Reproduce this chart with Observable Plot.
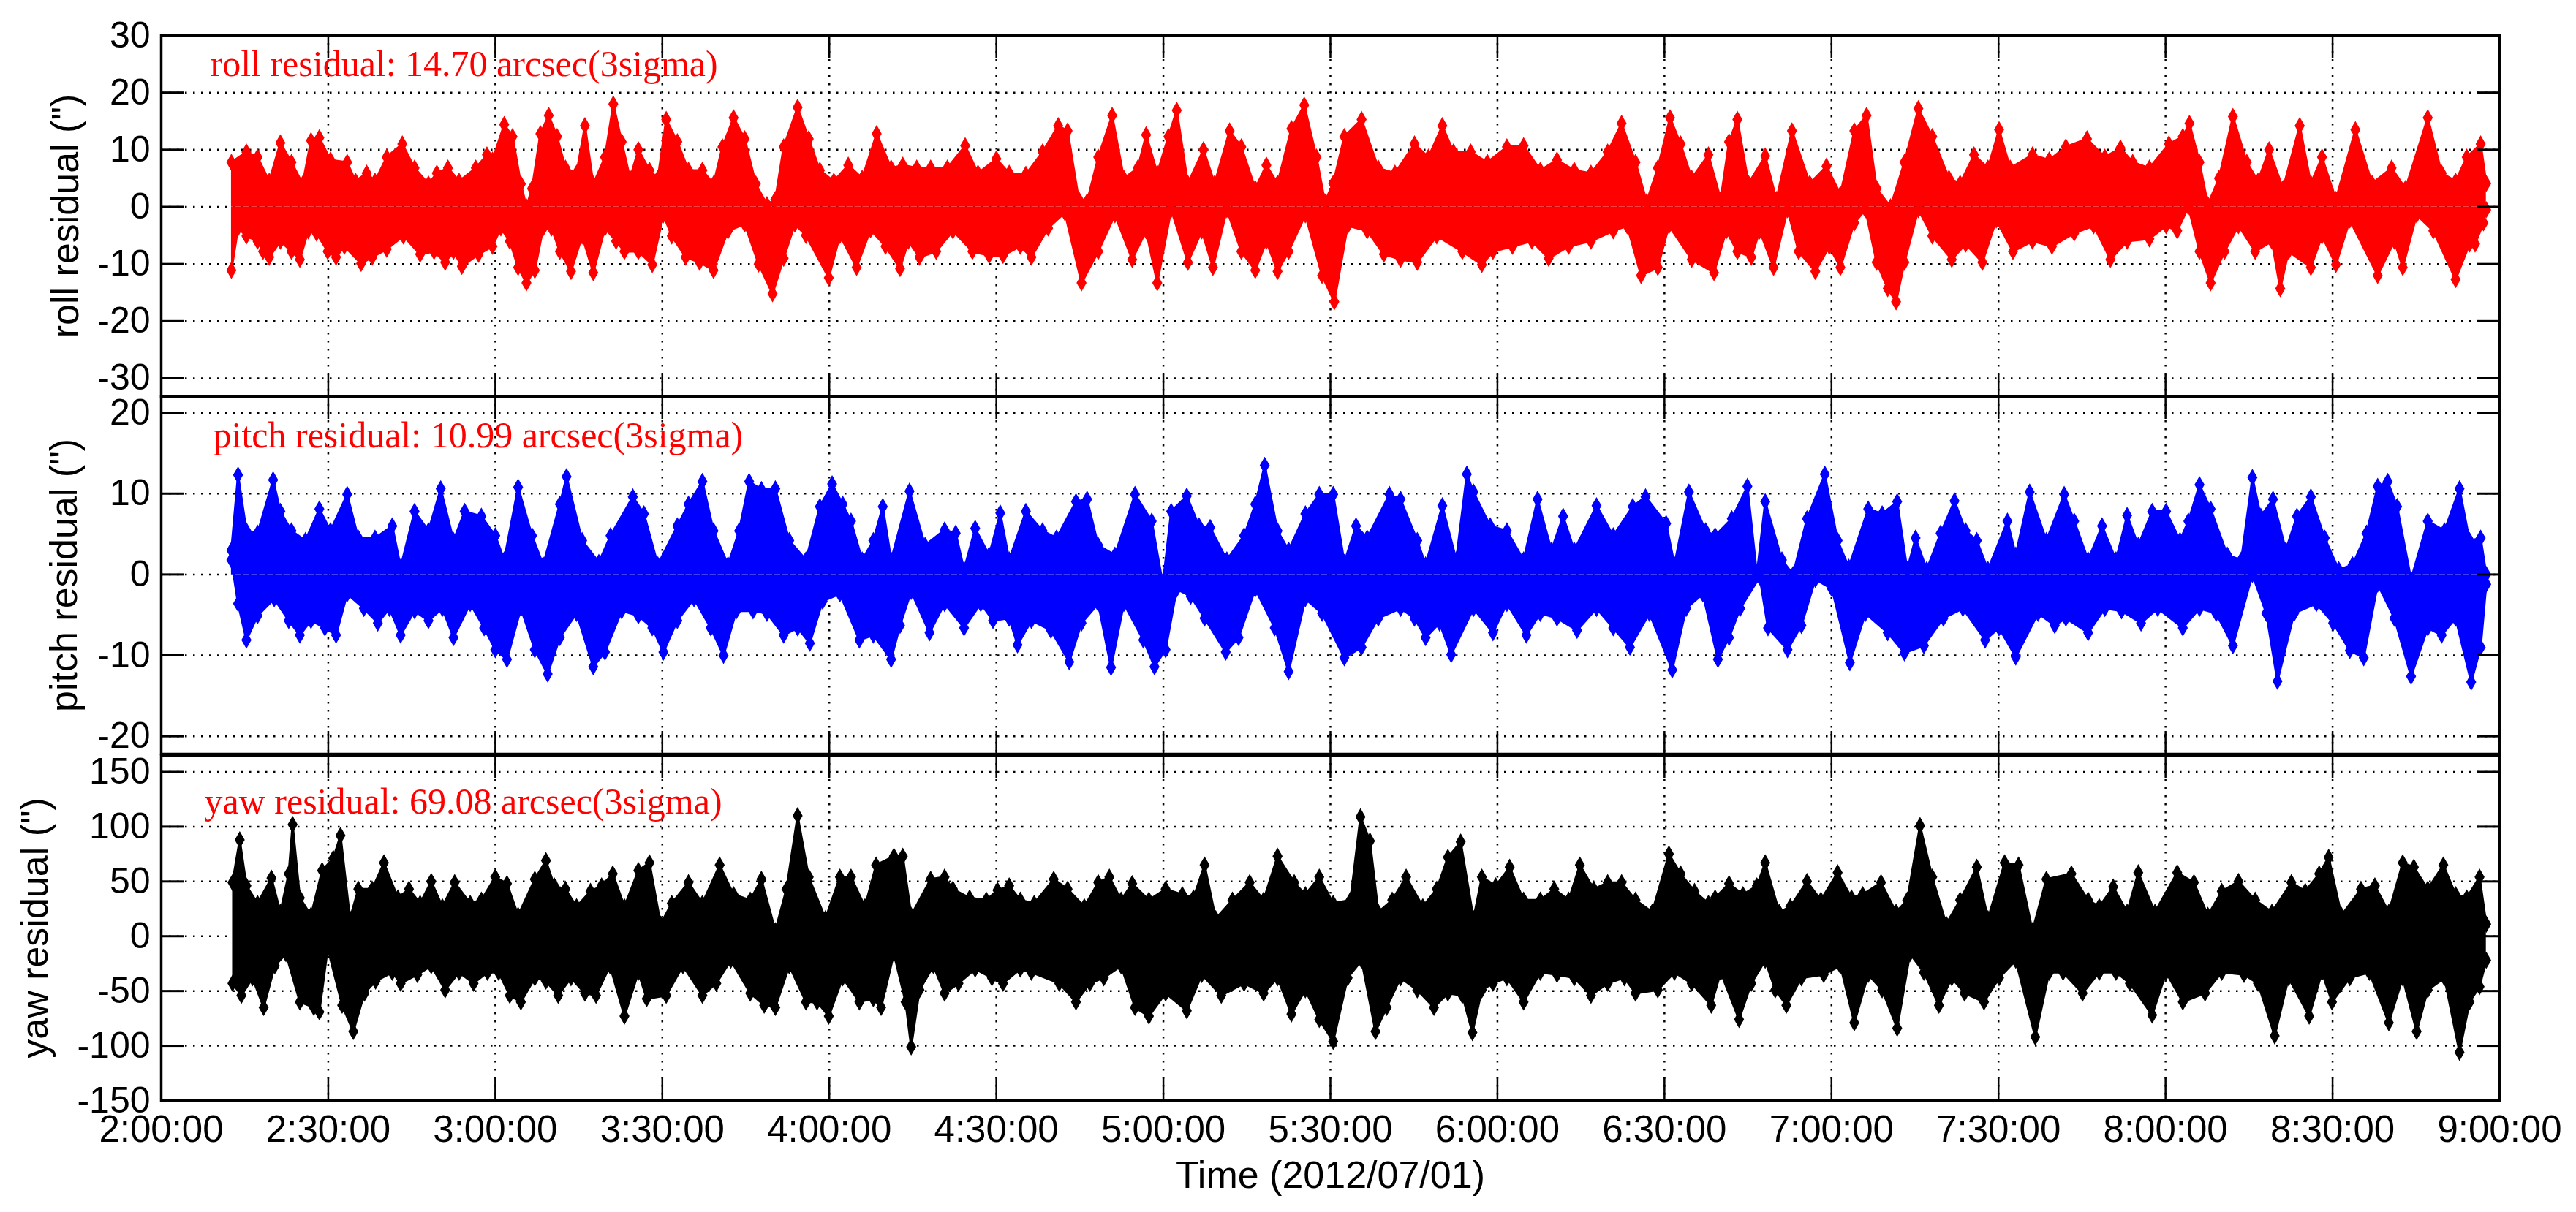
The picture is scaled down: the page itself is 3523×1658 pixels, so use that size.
<!DOCTYPE html>
<html><head><meta charset="utf-8">
<script src="https://cdn.jsdelivr.net/npm/d3@7"></script>
<script src="https://cdn.jsdelivr.net/npm/@observablehq/plot@0.6"></script>
<style>
html,body{margin:0;padding:0;background:#fff;}
#chart{position:relative;width:3523px;height:1658px;overflow:hidden;background:#fff;}
#chart svg{position:absolute;left:0;}
</style></head><body><div id="chart"></div>
<script>
// time: minutes after 2:00:00 ; value: arcsec. Upper / lower envelopes.
const rollHigh = [[12.6,7.8],[15.3,9.6],[17.3,8.7],[19.4,4.5],[21.4,11.2],[23.4,7.8],[25.4,4.0],[26.9,11.6],[28.4,12.1],[30.4,8.2],[33.4,7.8],[34.9,4.5],[36.9,5.9],[38.4,4.5],[40.5,8.7],[43.3,11.0],[45.5,6.8],[48.0,4.0],[49.5,5.9],[51.5,6.8],[53.5,4.5],[56.5,6.8],[58.5,9.1],[59.5,8.2],[61.6,14.4],[63.1,12.3],[64.6,4.0],[65.6,0.0],[66.6,3.2],[68.1,12.8],[69.6,16.0],[71.1,12.3],[72.6,6.8],[74.6,5.9],[76.1,14.2],[77.6,4.0],[79.7,8.7],[81.2,18.0],[82.7,11.4],[84.2,5.0],[85.7,10.0],[87.7,6.4],[89.2,5.0],[90.7,15.3],[92.7,11.4],[94.7,6.4],[97.2,6.4],[99.2,4.0],[100.8,10.5],[102.8,15.6],[104.8,11.9],[106.8,4.0],[108.8,0.4],[110.3,1.3],[111.8,10.5],[114.3,17.4],[116.3,11.9],[118.3,6.4],[120.8,4.5],[123.4,7.3],[125.9,5.0],[128.5,12.8],[131.1,6.8],[133.2,7.3],[135.7,6.8],[138.2,6.8],[141.2,6.8],[144.4,10.7],[146.7,5.9],[150.0,8.4],[152.3,5.9],[155.3,5.7],[158.3,9.6],[161.1,14.2],[162.8,13.3],[164.8,1.3],[166.3,0.9],[168.3,8.7],[170.8,16.0],[172.9,5.0],[175.4,6.8],[176.9,12.6],[178.9,5.9],[180.9,12.3],[182.4,16.9],[184.4,4.1],[187.2,10.0],[189.2,4.1],[191.9,13.3],[194.0,10.5],[196.5,3.2],[198.5,7.3],[200.5,4.1],[203.0,13.7],[205.3,17.8],[207.5,8.7],[209.0,0.9],[210.5,4.1],[212.5,12.3],[215.6,15.3],[218.6,6.8],[221.6,5.9],[225.1,11.0],[227.6,8.7],[230.1,14.2],[232.1,9.6],[235.2,9.6],[238.2,7.8],[241.7,10.5],[244.7,10.7],[247.7,6.4],[250.7,8.2],[253.8,6.4],[256.8,5.9],[259.8,9.6],[262.3,14.6],[264.8,7.8],[266.8,0.9],[268.8,6.8],[271.0,15.6],[272.9,11.0],[274.9,5.0],[277.9,9.1],[280.1,1.3],[281.6,11.4],[283.1,15.3],[285.1,4.1],[288.1,8.9],[290.1,1.3],[292.9,13.3],[296.1,4.1],[299.1,7.1],[301.6,2.2],[304.1,13.3],[306.3,16.0],[308.1,3.2],[310.6,0.0],[313.1,7.8],[315.6,17.2],[318.1,12.3],[321.1,5.0],[323.1,4.1],[325.6,9.1],[328.1,6.8],[330.1,13.5],[332.1,6.8],[336.1,9.1],[339.1,8.2],[342.1,10.5],[345.9,11.9],[349.1,8.7],[351.9,10.3],[354.1,7.8],[357.1,6.8],[360.6,11.0],[363.1,12.3],[364.3,14.6],[366.1,7.8],[367.6,0.4],[369.6,5.0],[372.1,15.8],[374.6,7.8],[376.6,4.5],[378.6,10.0],[381.1,3.2],[384.1,14.2],[386.1,4.1],[388.1,8.7],[390.6,1.3],[394.1,13.5],[397.1,4.1],[400.6,6.8],[403.1,3.2],[407.1,15.6],[409.6,5.9],[412.1,4.5],[414.1,8.7],[416.6,11.0],[417.6,4.1]];
const rollLow = [[12.6,-11.1],[13.8,-3.7],[15.3,-5.1],[17.3,-6.0],[18.3,-7.8],[19.4,-8.8],[21.4,-6.0],[23.4,-7.8],[24.9,-9.2],[26.4,-4.2],[27.9,-4.6],[29.9,-7.8],[31.4,-8.8],[32.9,-6.9],[35.9,-9.9],[37.9,-8.8],[40.5,-7.4],[43.5,-5.1],[46.5,-8.3],[49.0,-7.8],[51.0,-9.7],[52.5,-7.8],[54.0,-10.4],[57.0,-8.3],[59.5,-6.9],[61.0,-3.7],[62.6,-6.0],[64.1,-10.6],[65.6,-13.3],[67.1,-11.1],[68.6,-3.7],[70.1,-3.7],[71.6,-7.8],[73.6,-11.3],[75.6,-5.1],[77.6,-11.5],[79.7,-3.7],[81.7,-6.0],[83.2,-7.8],[85.7,-7.8],[88.2,-10.1],[90.2,-1.4],[91.7,-5.1],[94.2,-8.8],[96.7,-9.7],[99.2,-11.1],[101.8,-4.2],[104.8,-3.0],[107.3,-10.0],[109.8,-15.2],[111.8,-9.0],[113.8,-3.0],[115.8,-5.0],[119.9,-12.4],[121.9,-5.0],[124.9,-10.6],[127.4,-4.0],[130.1,-6.9],[132.7,-10.8],[134.2,-6.0],[136.2,-8.8],[139.2,-7.8],[142.2,-4.2],[145.7,-7.8],[148.7,-8.5],[151.2,-8.5],[154.3,-6.9],[156.3,-8.8],[159.3,-3.7],[162.3,-1.0],[165.3,-13.3],[168.3,-7.8],[171.3,-1.4],[174.4,-9.2],[176.9,-4.2],[178.9,-13.3],[181.4,-0.5],[184.4,-9.7],[186.9,-4.2],[188.9,-10.6],[191.4,-0.5],[194.0,-7.8],[196.5,-11.1],[198.5,-6.0],[200.5,-11.3],[202.5,-7.8],[205.5,-1.4],[208.5,-12.0],[210.7,-16.6],[213.1,-3.3],[216.6,-4.2],[219.6,-8.3],[222.6,-9.2],[225.6,-9.7],[229.1,-5.1],[233.7,-7.8],[237.2,-10.1],[239.2,-7.8],[242.7,-6.9],[246.2,-6.0],[249.2,-9.0],[252.8,-6.9],[256.8,-6.0],[260.8,-4.2],[263.3,-3.3],[265.8,-12.0],[268.8,-10.6],[270.8,-3.3],[274.9,-9.2],[278.9,-11.5],[281.1,-4.2],[283.1,-7.8],[285.6,-8.8],[287.1,-4.2],[289.6,-10.6],[292.1,-0.5],[294.1,-7.8],[297.1,-11.3],[299.6,-6.9],[301.6,-10.6],[304.1,-2.8],[306.1,-0.5],[308.1,-9.7],[310.1,-14.3],[311.6,-16.6],[313.1,-9.7],[315.6,-0.5],[318.1,-5.1],[321.6,-9.2],[324.1,-6.5],[327.1,-9.7],[329.6,-2.3],[332.6,-7.8],[336.1,-6.0],[339.6,-6.9],[343.6,-4.6],[347.1,-3.3],[350.1,-9.2],[353.1,-6.0],[357.1,-5.6],[360.1,-3.3],[362.1,-4.2],[364.1,0.0],[366.1,-7.8],[368.1,-13.3],[370.6,-7.8],[373.1,-3.3],[376.1,-7.8],[379.1,-6.0],[380.6,-14.3],[382.1,-7.8],[386.1,-10.6],[388.1,-5.1],[390.6,-10.1],[393.1,-2.3],[398.1,-12.0],[401.1,-6.0],[402.6,-10.6],[405.1,-1.4],[408.1,-4.2],[412.1,-12.7],[414.6,-6.5],[415.6,-6.5],[417.1,-2.8],[417.6,-0.5]];

const pitchHigh = [[12.6,3.0],[13.8,12.3],[15.3,5.4],[17.3,5.1],[20.1,11.7],[21.4,7.8],[23.4,5.4],[25.9,4.2],[28.4,8.1],[30.4,5.4],[33.4,9.9],[35.4,4.5],[38.4,4.5],[41.5,6.0],[43.0,0.9],[45.5,7.8],[48.0,5.4],[50.2,10.6],[52.5,4.2],[54.5,7.8],[57.5,7.2],[60.0,4.8],[61.6,1.8],[64.1,10.8],[66.6,4.8],[68.6,1.2],[71.6,8.7],[72.8,12.1],[75.6,4.2],[78.6,1.5],[80.7,4.8],[84.7,9.6],[86.7,7.5],[89.2,1.2],[92.7,6.0],[94.7,8.7],[97.2,11.5],[99.2,5.4],[101.8,1.2],[103.8,5.4],[105.6,11.5],[107.8,10.5],[110.3,10.6],[112.8,4.2],[115.8,1.8],[118.3,8.4],[120.5,11.2],[122.4,8.7],[123.9,6.6],[125.9,1.8],[127.9,4.2],[129.6,8.4],[131.1,1.8],[134.4,10.3],[137.2,3.6],[140.7,5.5],[142.7,5.1],[144.2,0.6],[146.2,5.7],[148.7,2.4],[150.7,7.6],[152.3,1.8],[155.3,7.8],[158.3,5.4],[160.8,4.5],[164.3,9.0],[166.3,9.3],[168.3,3.6],[171.3,2.4],[174.9,9.9],[177.9,6.6],[179.9,-1.2],[181.4,7.8],[184.2,9.7],[186.4,6.0],[188.4,5.8],[191.4,1.8],[194.5,4.8],[196.5,8.7],[198.2,13.5],[200.5,5.4],[202.5,3.0],[205.5,7.5],[208.0,9.9],[210.5,9.9],[212.5,1.5],[214.6,6.0],[216.6,4.5],[220.6,9.9],[222.6,9.3],[225.6,4.2],[227.1,1.2],[230.1,8.5],[232.6,1.8],[234.5,12.4],[235.7,10.2],[238.7,6.0],[241.7,5.4],[244.7,1.8],[247.2,9.3],[249.7,3.0],[251.8,7.2],[253.8,3.0],[257.8,8.5],[260.8,4.8],[264.3,8.4],[266.6,9.6],[270.3,6.3],[271.8,1.2],[274.4,10.2],[277.4,5.4],[279.1,4.8],[282.1,6.9],[284.9,10.9],[286.6,0.0],[288.1,9.0],[291.1,1.8],[293.1,0.0],[295.6,6.9],[298.8,12.4],[301.1,4.2],[303.1,0.9],[306.6,8.1],[309.1,7.5],[311.8,9.0],[313.6,0.6],[315.1,4.5],[317.1,0.6],[319.6,5.1],[322.1,9.1],[324.1,5.4],[326.1,4.2],[328.1,0.6],[331.6,6.6],[333.1,2.4],[335.6,10.2],[338.6,4.2],[341.8,9.9],[343.6,6.6],[346.1,1.8],[348.6,6.0],[351.1,1.8],[353.1,7.3],[355.1,3.6],[357.6,7.8],[360.1,7.8],[362.6,4.2],[364.1,6.6],[366.1,11.1],[368.1,8.1],[371.1,2.4],[373.6,1.8],[375.6,12.0],[377.1,7.2],[379.3,9.3],[381.6,3.0],[383.6,7.2],[386.1,9.6],[388.6,4.5],[391.1,0.6],[393.6,1.2],[396.1,5.1],[398.1,10.9],[399.9,11.5],[401.6,8.4],[404.1,-0.6],[407.1,6.6],[410.1,5.4],[412.8,10.6],[414.6,4.2],[416.6,4.5],[417.6,0.0]];
const pitchLow = [[12.6,1.8],[13.8,-3.6],[15.3,-8.1],[17.3,-5.1],[20.3,-3.0],[22.9,-5.7],[24.9,-7.5],[26.9,-5.7],[29.4,-6.6],[31.4,-7.5],[33.4,-2.4],[36.4,-4.2],[38.9,-6.0],[41.0,-4.2],[43.0,-7.5],[45.5,-4.5],[48.0,-5.7],[50.5,-4.2],[52.5,-7.8],[55.5,-3.6],[58.0,-6.6],[60.0,-9.3],[62.1,-10.5],[64.6,-4.2],[67.1,-9.3],[69.4,-12.3],[71.6,-7.8],[74.6,-4.8],[77.6,-11.4],[79.7,-9.6],[82.7,-4.5],[85.7,-5.1],[88.2,-6.6],[90.2,-9.6],[92.7,-5.7],[95.7,-3.0],[98.7,-6.6],[101.0,-10.0],[103.3,-4.5],[106.3,-4.5],[108.8,-4.8],[111.8,-7.5],[114.3,-6.6],[116.5,-8.5],[118.8,-3.3],[121.9,-2.4],[125.4,-8.1],[127.9,-7.5],[131.1,-10.5],[132.7,-6.3],[134.7,-2.1],[138.0,-7.2],[140.7,-3.6],[144.2,-6.6],[147.2,-3.6],[149.4,-5.7],[152.3,-5.4],[153.8,-8.7],[156.3,-5.7],[159.8,-6.9],[163.1,-10.8],[165.3,-6.0],[168.3,-3.6],[170.6,-11.5],[172.9,-3.6],[176.4,-8.1],[178.4,-11.4],[180.4,-9.3],[182.4,-1.8],[184.9,-2.7],[187.4,-5.4],[191.2,-9.6],[193.5,-7.8],[196.5,-1.8],[200.0,-6.6],[202.5,-12.0],[205.5,-3.0],[208.5,-4.8],[212.5,-10.3],[215.6,-9.0],[218.6,-5.4],[222.6,-4.2],[225.1,-5.4],[227.1,-7.8],[229.6,-6.0],[231.7,-9.9],[235.7,-4.2],[239.2,-7.2],[241.7,-3.6],[245.2,-7.5],[247.7,-4.8],[250.7,-5.4],[254.3,-6.9],[257.8,-4.2],[260.8,-6.6],[263.8,-9.0],[267.3,-4.8],[271.4,-11.8],[273.9,-4.2],[276.9,-2.4],[279.6,-10.5],[281.6,-7.8],[283.6,-4.2],[287.1,-0.3],[288.6,-6.6],[292.1,-9.3],[294.6,-6.3],[297.1,-0.6],[300.1,-1.8],[303.3,-10.9],[306.1,-4.8],[310.1,-7.2],[313.1,-9.7],[316.6,-8.8],[320.1,-5.4],[323.6,-4.2],[327.6,-8.1],[330.1,-6.6],[333.1,-10.2],[337.1,-4.8],[340.1,-6.3],[342.1,-5.4],[346.1,-7.2],[349.1,-4.2],[352.1,-4.5],[355.6,-6.0],[358.6,-4.2],[363.1,-6.6],[366.1,-4.2],[369.1,-4.8],[372.1,-8.8],[375.6,0.0],[378.1,-4.8],[380.1,-13.2],[383.1,-4.8],[387.1,-3.6],[390.1,-6.0],[393.1,-9.4],[395.6,-10.3],[398.1,-1.2],[401.1,-5.4],[404.1,-12.6],[407.1,-6.6],[409.6,-7.5],[412.1,-5.4],[414.9,-13.3],[416.6,-9.0],[417.6,-1.2]];

const yawHigh = [[12.8,49],[14.1,88],[15.3,46],[17.3,30],[19.8,53],[21.4,22],[22.9,57],[23.6,102],[24.9,35],[26.9,19],[28.9,60],[30.9,71],[32.2,92],[33.9,16],[35.4,43],[37.9,43],[40.0,67],[42.5,35],[44.5,43],[46.5,30],[48.5,50],[50.5,27],[52.7,49],[55.5,30],[57.5,33],[60.0,54],[62.1,48],[64.1,19],[67.1,52],[69.1,69],[70.6,46],[72.6,43],[74.6,27],[77.1,41],[79.1,46],[81.1,57],[83.2,27],[85.7,60],[87.7,67],[89.7,11],[91.7,30],[94.7,49],[97.2,30],[100.3,65],[102.8,38],[105.8,33],[107.8,52],[110.3,5],[112.3,43],[114.3,110],[116.3,54],[119.3,16],[121.9,54],[123.9,54],[126.4,27],[128.4,65],[131.6,73],[133.2,73],[134.7,19],[138.2,52],[140.7,54],[142.2,43],[145.2,35],[148.2,33],[150.2,42],[152.3,46],[154.3,33],[156.8,30],[160.3,52],[162.8,43],[165.8,27],[168.3,49],[170.3,54],[172.4,33],[174.4,48],[177.4,33],[180.4,43],[183.4,38],[185.4,35],[187.4,65],[189.4,16],[192.4,33],[195.5,49],[198.0,33],[200.5,73],[203.5,49],[205.5,38],[208.0,54],[210.5,30],[213.6,33],[215.4,109],[217.1,87],[218.6,22],[221.1,33],[223.6,54],[226.6,27],[229.1,43],[231.1,72],[233.4,86],[235.7,16],[237.2,54],[239.7,46],[242.2,63],[244.7,33],[247.7,33],[250.2,43],[252.8,33],[254.8,65],[257.3,43],[259.8,49],[262.3,49],[264.8,33],[267.8,22],[270.8,75],[272.9,57],[275.4,41],[277.9,30],[279.1,35],[281.6,48],[284.1,38],[286.6,46],[288.1,67],[290.6,22],[292.6,27],[295.6,50],[298.1,33],[301.1,58],[303.6,35],[305.6,38],[308.9,49],[311.6,22],[313.6,33],[315.9,101],[318.1,54],[320.6,11],[323.1,33],[326.1,63],[328.1,16],[331.1,67],[333.6,65],[336.1,5],[338.6,52],[343.1,57],[346.1,33],[348.1,27],[350.6,45],[353.1,22],[355.1,58],[358.1,22],[362.1,58],[365.1,49],[367.6,19],[370.1,41],[373.1,50],[376.1,33],[379.1,22],[382.6,49],[385.1,41],[387.6,57],[389.3,72],[391.6,19],[395.1,43],[397.6,46],[400.1,22],[402.6,67],[404.6,63],[407.1,43],[409.9,65],[412.1,38],[414.1,35],[416.4,54],[417.6,11]];
const yawLow = [[12.8,-43],[14.4,-54],[16.4,-38],[18.4,-65],[20.4,-27],[22.4,-16],[24.9,-60],[27.4,-65],[28.4,-69],[29.9,-11],[32.5,-63],[34.5,-87],[36.5,-52],[38.5,-41],[41.5,-33],[43.0,-43],[46.0,-35],[48.5,-27],[51.0,-49],[53.5,-33],[56.1,-43],[58.6,-33],[60.6,-33],[62.6,-54],[64.6,-60],[67.1,-38],[69.1,-41],[71.3,-54],[73.6,-38],[76.1,-52],[78.1,-54],[80.6,-27],[83.2,-73],[85.7,-33],[87.2,-57],[90.7,-54],[93.7,-27],[97.2,-54],[99.7,-43],[102.3,-22],[105.8,-52],[108.3,-63],[110.3,-65],[112.8,-27],[115.8,-60],[117.8,-60],[119.9,-73],[122.4,-38],[125.4,-60],[127.9,-57],[129.3,-65],[131.6,-16],[133.7,-60],[134.7,-101],[136.2,-49],[138.7,-27],[140.7,-52],[143.2,-43],[146.2,-30],[149.2,-38],[151.2,-43],[154.3,-30],[156.3,-33],[161.3,-43],[164.3,-60],[166.8,-43],[169.3,-38],[172.4,-27],[174.9,-65],[177.4,-73],[180.4,-52],[184.2,-68],[186.9,-35],[190.4,-54],[194.5,-43],[198.0,-52],[200.5,-38],[203.0,-71],[205.5,-49],[208.0,-76],[210.5,-96],[213.1,-38],[215.6,-22],[218.1,-87],[220.1,-65],[222.6,-38],[225.6,-49],[228.6,-65],[231.1,-52],[233.7,-54],[235.5,-88],[237.2,-49],[239.2,-43],[241.7,-38],[244.7,-60],[247.7,-33],[250.7,-35],[253.8,-38],[256.8,-54],[259.8,-43],[262.8,-38],[264.8,-52],[268.8,-49],[271.8,-33],[274.9,-43],[278.4,-63],[280.1,-33],[283.4,-76],[285.6,-43],[288.1,-22],[289.9,-49],[291.9,-63],[294.6,-38],[298.6,-35],[301.6,-27],[304.1,-79],[306.6,-35],[309.1,-49],[311.8,-84],[314.1,-16],[316.6,-33],[319.3,-63],[321.6,-38],[323.9,-52],[327.4,-60],[330.1,-38],[333.1,-22],[336.6,-92],[339.1,-33],[341.6,-33],[345.1,-52],[348.1,-33],[351.1,-33],[353.6,-43],[357.6,-72],[360.1,-33],[363.1,-60],[367.1,-52],[370.1,-33],[374.1,-35],[376.6,-43],[379.6,-91],[382.1,-38],[385.8,-73],[388.1,-33],[389.9,-60],[393.1,-38],[396.6,-33],[400.1,-79],[402.6,-38],[405.1,-87],[407.1,-49],[410.1,-38],[412.8,-106],[414.6,-60],[416.4,-46],[417.6,-22]];

const xTicks = [0,30,60,90,120,150,180,210,240,270,300,330,360,390,420];
const rollTicks = [-30,-20,-10,0,10,20,30];
const pitchTicks = [-20,-10,0,10,20];
const yawTicks = [-150,-100,-50,0,50,100,150];
const rollNote = "roll residual: 14.70 arcsec(3sigma)";
const pitchNote = "pitch residual: 10.99 arcsec(3sigma)";
const yawNote = "yaw residual: 69.08 arcsec(3sigma)";
const xLabel = "Time (2012/07/01)";

const W = 3523, ML = 220, MR = 105;
const FW = W - ML - MR;
const sans = "'Liberation Sans', Arial, Helvetica, sans-serif";
const serif = "'Liberation Serif', 'Times New Roman', serif";

function fmtTime(m) {
  const h = 2 + Math.floor(m / 60), mm = m % 60;
  return `${h}:${String(mm).padStart(2, "0")}:00`;
}

function panel(o) {
  const FH = o.height - o.marginTop - o.marginBottom;
  const hi = o.high.map(([t, v]) => ({t, v}));
  const lo = o.low.map(([t, v]) => ({t, v}));
  const grid = {stroke: "black", strokeWidth: 2.5, strokeDasharray: "2.5,8.5"};
  const marks = [
    Plot.ruleY(o.yTicks, {y: d => d, ...grid}),
    Plot.ruleX(xTicks, {x: d => d, ...grid}),
    Plot.areaY(hi, {x: "t", y1: 0, y2: "v", fill: o.color}),
    Plot.areaY(lo, {x: "t", y1: 0, y2: "v", fill: o.color}),
    Plot.line(hi, {x: "t", y: "v", stroke: o.color, strokeWidth: 3}),
    Plot.line(lo, {x: "t", y: "v", stroke: o.color, strokeWidth: 3}),
    Plot.dot(hi, {x: "t", y: "v", symbol: "diamond", r: 6, fill: o.color, stroke: o.color, strokeWidth: 2}),
    Plot.dot(lo, {x: "t", y: "v", symbol: "diamond", r: 6, fill: o.color, stroke: o.color, strokeWidth: 2}),
    Plot.tickY(o.yTicks, {y: d => d, stroke: "black", strokeWidth: 3, insetRight: FW - 31}),
    Plot.tickY(o.yTicks, {y: d => d, stroke: "black", strokeWidth: 3, insetLeft: FW - 31}),
    Plot.tickX(xTicks, {x: d => d, stroke: "black", strokeWidth: 2.5, insetBottom: FH - 31}),
    Plot.tickX(xTicks, {x: d => d, stroke: "black", strokeWidth: 2.5, insetTop: FH - 31}),
    Plot.frame({stroke: "black", strokeWidth: 3.5}),
    Plot.axisY(o.yTicks, {tickSize: 0, tickPadding: 15, fontSize: 50, tickFormat: d => String(d), label: null, fontFamily: sans}),
    Plot.text([o.label], {text: d => d, frameAnchor: "left", rotate: -90, dx: o.labelDx, fontSize: 52, textAnchor: "middle", lineAnchor: "middle", fontFamily: sans, fill: "black"}),
    Plot.text([o.note], {text: d => d, frameAnchor: "top-left", dx: o.noteDx, dy: o.noteDy, textAnchor: "start", lineAnchor: "top", fill: "#ff0000", fontFamily: serif, fontSize: 50})
  ];
  if (o.showX) {
    marks.push(Plot.axisX(xTicks, {tickSize: 0, tickPadding: 20, fontSize: 51, tickFormat: fmtTime, label: null, fontFamily: sans}));
    marks.push(Plot.text([xLabel], {text: d => d, frameAnchor: "bottom", dy: 83, lineAnchor: "top", textAnchor: "middle", fontSize: 52, fontFamily: sans, fill: "black"}));
  }
  const svg = Plot.plot({
    width: W,
    height: o.height,
    marginLeft: ML,
    marginRight: MR,
    marginTop: o.marginTop,
    marginBottom: o.marginBottom,
    style: {background: "transparent", overflow: "visible", fontFamily: sans, color: "black"},
    x: {type: "linear", domain: [0, 420], axis: o.showX ? undefined : null},
    y: {type: "linear", domain: o.yDomain},
    marks
  });
  svg.style.position = "absolute";
  svg.style.top = o.top + "px";
  svg.style.left = "0px";
  svg.style.maxWidth = "none";
  document.getElementById("chart").appendChild(svg);
}

panel({high: rollHigh, low: rollLow, color: "#ff0000", yDomain: [-33.2, 30], yTicks: rollTicks,
  label: "roll residual (\")", labelDx: -130, note: rollNote, noteDx: 67, noteDy: 20,
  top: 0, height: 542, marginTop: 48, marginBottom: 0, showX: false});
panel({high: pitchHigh, low: pitchLow, color: "#0000ff", yDomain: [-22.2, 22], yTicks: pitchTicks,
  label: "pitch residual (\")", labelDx: -132, note: pitchNote, noteDx: 71, noteDy: 34,
  top: 542, height: 489, marginTop: 0, marginBottom: 0, showX: false});
panel({high: yawHigh, low: yawLow, color: "#000000", yDomain: [-150, 165], yTicks: yawTicks,
  label: "yaw residual (\")", labelDx: -172, note: yawNote, noteDx: 59, noteDy: 44,
  top: 1033, height: 625, marginTop: 0, marginBottom: 153, showX: true});
</script></body></html>
